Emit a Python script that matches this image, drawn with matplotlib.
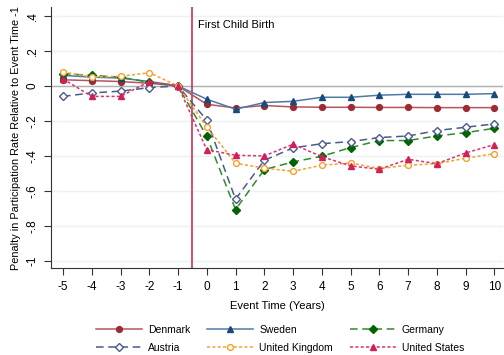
import numpy as np
import matplotlib
matplotlib.use("Agg")
import matplotlib.pyplot as plt

plt.rcParams["font.family"] = ["Liberation Sans", "DejaVu Sans"]

# ====== Data ======
event_time = [-5, -4, -3, -2, -1, 0, 1, 2, 3, 4, 5, 6, 7, 8, 9, 10]

denmark = [0.035, 0.030, 0.025, 0.015, 0.0, -0.105, -0.126, -0.112, -0.120, -0.122,
           -0.122, -0.123, -0.123, -0.124, -0.124, -0.124]
sweden = [0.060, 0.050, 0.045, 0.025, 0.0, -0.076, -0.133, -0.095, -0.088, -0.065,
          -0.065, -0.053, -0.048, -0.048, -0.048, -0.044]
germany = [0.070, 0.060, 0.050, 0.020, 0.0, -0.288, -0.706, -0.478, -0.434, -0.402,
           -0.352, -0.312, -0.312, -0.286, -0.267, -0.242]
austria = [-0.060, -0.040, -0.030, -0.010, 0.0, -0.196, -0.647, -0.425, -0.354, -0.330,
           -0.318, -0.295, -0.286, -0.255, -0.236, -0.217]
uk = [0.080, 0.050, 0.055, 0.075, 0.0, -0.234, -0.442, -0.469, -0.488, -0.453,
      -0.440, -0.472, -0.453, -0.444, -0.413, -0.387]
us = [0.040, -0.060, -0.060, 0.025, 0.0, -0.364, -0.396, -0.400, -0.333, -0.404,
      -0.457, -0.476, -0.419, -0.444, -0.383, -0.335]

y_ticks = [0.4, 0.2, 0, -0.2, -0.4, -0.6, -0.8, -1]
y_tick_labels = [".4", ".2", "0", "-.2", "-.4", "-.6", "-.8", "-1"]

# label, values, line colour, marker, marker face, marker edge, linestyle
SERIES = [
    ("Denmark", denmark, "#b5555c", "o", "#9e2a33", "#9e2a33", "-"),
    ("Sweden", sweden, "#4f7aa3", "^", "#1a4a7a", "#1a4a7a", "-"),
    ("Germany", germany, "#2e8b2e", "D", "#006400", "#006400", (0, (5, 3))),
    ("Austria", austria, "#4a5a8a", "D", "white", "#4a5a8a", (0, (5, 3))),
    ("United Kingdom", uk, "#f5a030", "o", "white", "#f5a030", (0, (2, 1.5))),
    ("United States", us, "#e0306a", "^", "#d0205a", "#d0205a", (0, (2, 1.5))),
]

fig = plt.figure(figsize=(5.04, 3.55), dpi=100)
ax = fig.add_axes([0.101, 0.245, 0.897, 0.735])

for y in y_ticks:
    ax.axhline(y, color="#eaf2f3", lw=1.0, zorder=0)
ax.axhline(0, color="#b0b0b0", lw=1.0, zorder=1)
ax.axvline(-0.5, color="#c8325a", lw=1.2, zorder=2)
ax.text(-0.3, 0.35, "First Child Birth", fontsize=8, va="center", ha="left")

handles = {}
for label, vals, lc, mk, mf, me, ls in SERIES:
    ms = 3.6 if mk == "D" else 4.2
    (h,) = ax.plot(event_time, vals, color=lc, linestyle=ls, lw=1.1,
                   marker=mk, markersize=ms, markerfacecolor=mf,
                   markeredgecolor=me, markeredgewidth=1.0, label=label, zorder=3)
    handles[label] = h

ax.set_xlim(-5.42, 10.3)
ax.set_ylim(-1.04, 0.45)
ax.set_xticks(event_time)
ax.set_xticklabels([str(t) for t in event_time], fontsize=8.5)
ax.set_yticks(y_ticks)
ax.set_yticklabels(y_tick_labels, fontsize=8.5, rotation=90, va="center")
ax.tick_params(axis="both", length=5, width=0.8, color="#333333", pad=4)
ax.set_xlabel("Event Time (Years)", fontsize=8, labelpad=6)
ax.set_ylabel("Penalty in Participation Rate Relative to Event Time -1", fontsize=7.8)

for side in ["top", "right"]:
    ax.spines[side].set_visible(False)
for side in ["left", "bottom"]:
    ax.spines[side].set_color("#333333")

order = ["Denmark", "Austria", "Sweden", "United Kingdom", "Germany", "United States"]
fig.legend([handles[k] for k in order], order, loc="lower center",
           bbox_to_anchor=(0.556, -0.02), ncol=3, frameon=False, fontsize=7.5,
           handlelength=4.4, handletextpad=0.6, columnspacing=1.6, labelspacing=0.75)

fig.savefig("out.png", dpi=100)
